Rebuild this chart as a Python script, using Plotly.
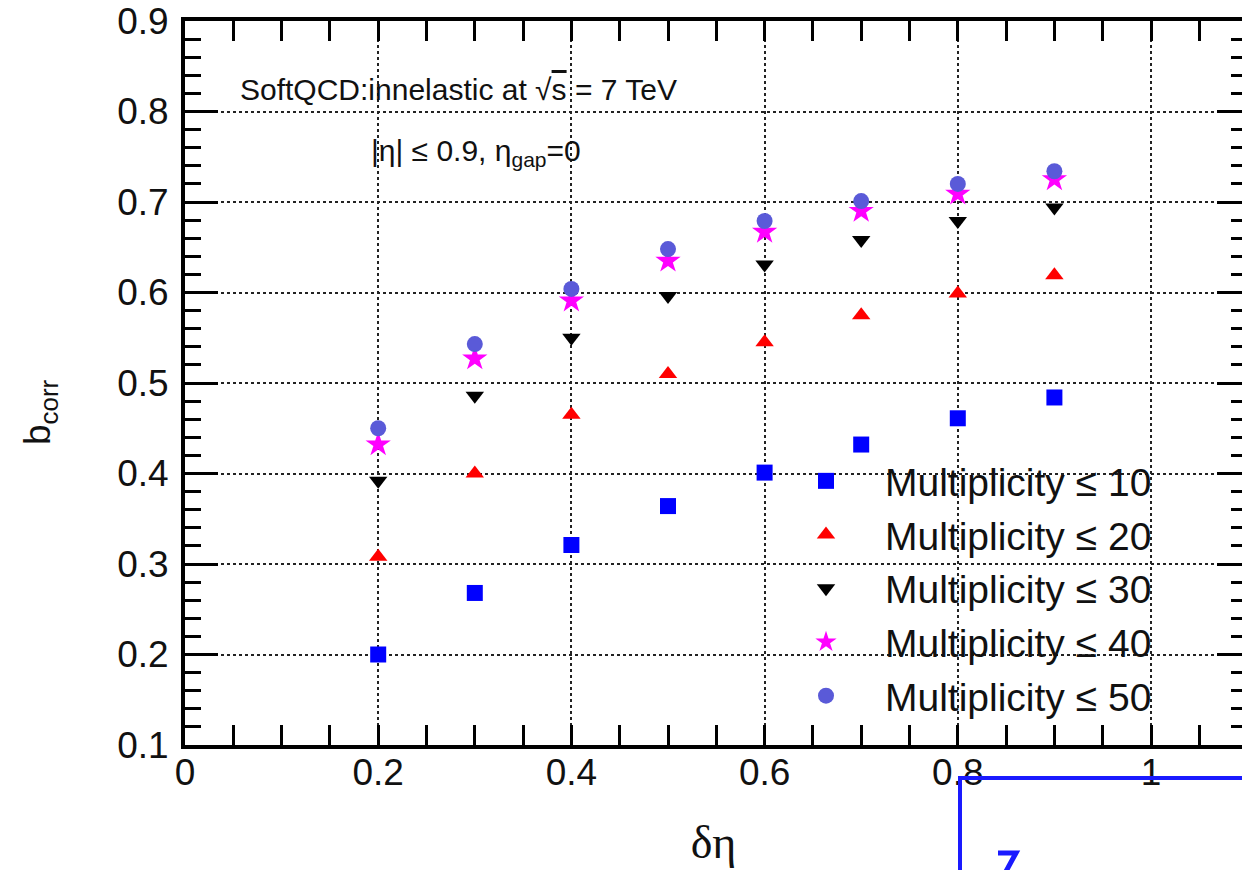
import plotly.graph_objects as go

# b_corr versus pseudorapidity window width, for five multiplicity cuts
delta_eta = [0.2, 0.3, 0.4, 0.5, 0.6, 0.7, 0.8, 0.9]
b_mult10 = [0.200, 0.268, 0.321, 0.364, 0.401, 0.432, 0.461, 0.484]
b_mult20 = [0.308, 0.400, 0.465, 0.510, 0.545, 0.575, 0.599, 0.619]
b_mult30 = [0.392, 0.486, 0.550, 0.596, 0.631, 0.658, 0.679, 0.694]
b_mult40 = [0.432, 0.527, 0.591, 0.635, 0.667, 0.690, 0.709, 0.725]
b_mult50 = [0.450, 0.543, 0.604, 0.648, 0.679, 0.701, 0.720, 0.734]

series_names = ["Multiplicity \u2264 10", "Multiplicity \u2264 20", "Multiplicity \u2264 30",
                "Multiplicity \u2264 40", "Multiplicity \u2264 50"]

x_tickvals = [0, 0.2, 0.4, 0.6, 0.8, 1.0]
x_ticktext = ["0", "0.2", "0.4", "0.6", "0.8", "1"]
y_tickvals = [0.1, 0.2, 0.3, 0.4, 0.5, 0.6, 0.7, 0.8, 0.9]
y_ticktext = ["0.1", "0.2", "0.3", "0.4", "0.5", "0.6", "0.7", "0.8", "0.9"]

W, H = 1242, 870
L, R, T, B = 185, 0, 21, 125

SANS = "Liberation Sans, Arial, Helvetica, sans-serif"
SERIF = "Liberation Serif, Times New Roman, serif"

styles = [
    dict(symbol="square", color="#0000ff", size=16),
    dict(symbol="triangle-up", color="#ff0000", size=16),
    dict(symbol="triangle-down", color="#000000", size=16),
    dict(symbol="star", color="#ff00ff", size=19),
    dict(symbol="circle", color="#5a5ad8", size=16),
]
series = [b_mult10, b_mult20, b_mult30, b_mult40, b_mult50]

fig = go.Figure()
for name, vals, st in zip(series_names, series, styles):
    fig.add_trace(go.Scatter(
        x=delta_eta, y=vals, mode="markers", name=name,
        marker=dict(symbol=st["symbol"], color=st["color"], size=st["size"],
                    line=dict(width=0)),
    ))

axis_font = dict(family=SANS, size=37, color="#111111")


def px(xp):
    """pixel column -> paper x"""
    return (xp - L) / (W - L - R)


def py(yp):
    """pixel row -> paper y"""
    return (H - B - yp) / (H - T - B)


fig.update_layout(
    width=W, height=H,
    margin=dict(l=L, r=R, t=T, b=B, pad=0),
    paper_bgcolor="white", plot_bgcolor="white",
    showlegend=True,
    legend=dict(
        x=px(767), y=py(449), xanchor="left", yanchor="top",
        bgcolor="rgba(0,0,0,0)", borderwidth=0,
        font=dict(family=SANS, size=39, color="#111111"),
        itemwidth=108, tracegroupgap=0,
    ),
    xaxis=dict(
        range=[0, (W - L - R) / 966.0],
        tickmode="array", tickvals=x_tickvals, ticktext=x_ticktext,
        ticks="inside", ticklen=20, tickwidth=3, tickcolor="black",
        minor=dict(dtick=0.05, ticks="inside", ticklen=9, tickwidth=3,
                   tickcolor="black", showgrid=False),
        showline=True, linewidth=4, linecolor="black", mirror="allticks",
        showgrid=True, gridcolor="#222222", gridwidth=2, griddash="dot",
        zeroline=False,
        tickfont=axis_font, ticklabelstandoff=-8,
        title=dict(text="\u03b4\u03b7", font=dict(family=SERIF, size=46, color="#111111"),
                   standoff=34),
    ),
    yaxis=dict(
        range=[0.1, 0.9],
        tickmode="array", tickvals=y_tickvals, ticktext=y_ticktext,
        ticks="inside", ticklen=33, tickwidth=3, tickcolor="black",
        minor=dict(dtick=0.02, ticks="inside", ticklen=16, tickwidth=3,
                   tickcolor="black", showgrid=False),
        showline=True, linewidth=4, linecolor="black", mirror=False,
        showgrid=True, gridcolor="#222222", gridwidth=2, griddash="dot",
        zeroline=False,
        tickfont=axis_font, ticklabelstandoff=5,
    ),
    yaxis2=dict(
        range=[0.1, 0.9], overlaying="y", side="right",
        tickmode="array", tickvals=y_tickvals,
        ticks="inside", ticklen=25, tickwidth=3, tickcolor="black",
        minor=dict(dtick=0.02, ticks="inside", ticklen=11, tickwidth=3,
                   tickcolor="black", showgrid=False),
        showticklabels=False, showline=False, showgrid=False, zeroline=False,
    ),
)

# invisible carrier so the right-hand tick axis is drawn
fig.add_trace(go.Scatter(x=[], y=[], yaxis="y2", showlegend=False, hoverinfo="skip"))

# y-axis title
fig.add_annotation(
    xref="paper", yref="paper", x=px(40), y=py(412),
    xanchor="center", yanchor="middle", showarrow=False, textangle=-90,
    text="b<sub>corr</sub>",
    font=dict(family=SANS, size=37, color="#111111"),
)

# physics labels inside the frame
fig.add_annotation(
    xref="paper", yref="paper", x=px(458), y=py(90),
    xanchor="center", yanchor="middle", showarrow=False,
    text="SoftQCD:innelastic at \u221a<span style='text-decoration:overline'>s</span> = 7 TeV",
    font=dict(family=SANS, size=30, color="#111111"),
)
fig.add_annotation(
    xref="paper", yref="paper", x=px(476), y=py(152),
    xanchor="center", yanchor="middle", showarrow=False,
    text="|\u03b7| \u2264 0.9, \u03b7<sub>gap</sub>=0",
    font=dict(family=SANS, size=30, color="#111111"),
)

# blue frame corner of the neighbouring panel
fig.add_shape(type="path", xref="paper", yref="paper",
              path=f"M {px(960)} {py(875)} L {px(960)} {py(778)} L {px(1250)} {py(778)}",
              line=dict(color="#1a1aff", width=4))
fig.add_shape(type="path", xref="paper", yref="paper",
              path=f"M {px(998)} {py(853)} L {px(1016)} {py(853)} L {px(1004)} {py(875)}",
              line=dict(color="#1a1aff", width=5))

fig.write_html("out.html")
